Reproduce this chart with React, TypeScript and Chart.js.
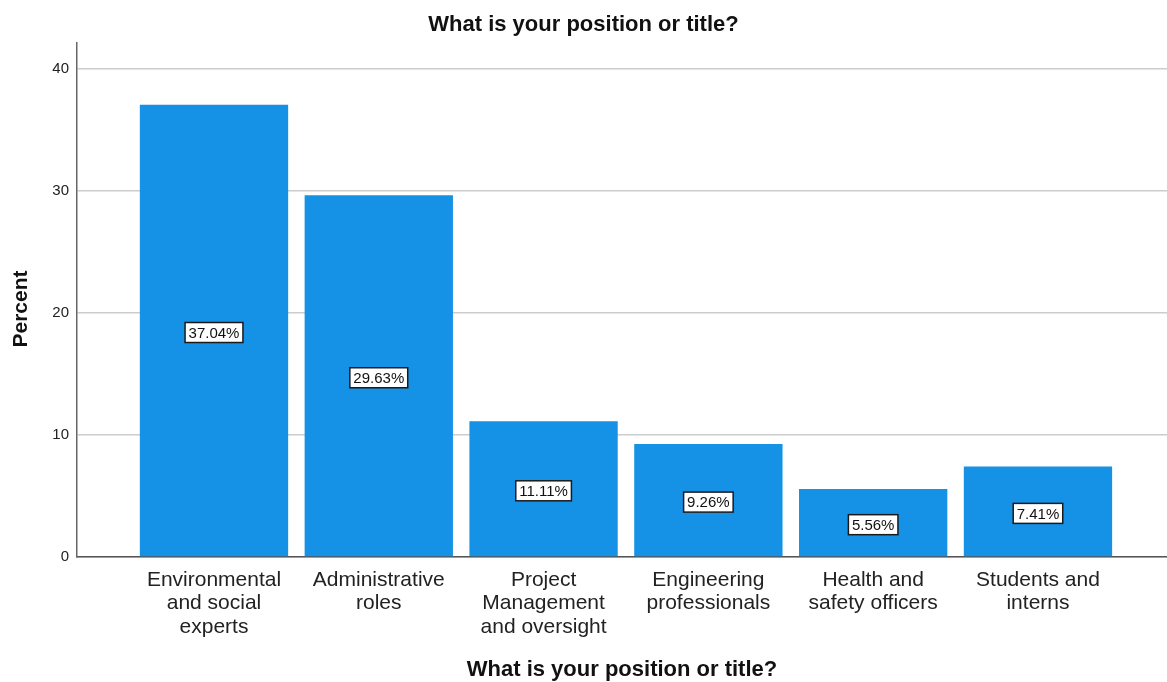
import React, { useEffect, useRef } from "react";
import { Chart, registerables } from "chart.js";

Chart.register(...registerables);

const chartTitle = "What is your position or title?";
const xAxisTitle = "What is your position or title?";
const yAxisTitle = "Percent";
const categories: string[][] = [
  ["Environmental", "and social", "experts"],
  ["Administrative", "roles"],
  ["Project", "Management", "and oversight"],
  ["Engineering", "professionals"],
  ["Health and", "safety officers"],
  ["Students and", "interns"],
];
const percents: number[] = [37.04, 29.63, 11.11, 9.26, 5.56, 7.41];
const yTicks: number[] = [0, 10, 20, 30, 40];

const FONT = "'Liberation Sans', Arial, Helvetica, sans-serif";
const BAR_COLOR = "#1591E6";

const labelBoxPlugin = {
  id: "labelBoxes",
  afterDatasetsDraw(chart: any) {
    const ctx = chart.ctx;
    const meta = chart.getDatasetMeta(0);
    ctx.save();
    ctx.font = `15px ${FONT}`;
    ctx.textAlign = "center";
    ctx.textBaseline = "middle";
    meta.data.forEach((bar: any, i: number) => {
      const text = percents[i].toFixed(2) + "%";
      const cx = bar.x;
      const cy = (bar.y + bar.base) / 2 + 2;
      const w = ctx.measureText(text).width + 7;
      const h = 20;
      ctx.fillStyle = "#ffffff";
      ctx.fillRect(cx - w / 2, cy - h / 2, w, h);
      ctx.lineWidth = 1.5;
      ctx.strokeStyle = "#1a1a1a";
      ctx.strokeRect(cx - w / 2, cy - h / 2, w, h);
      ctx.fillStyle = "#111111";
      ctx.fillText(text, cx, cy + 1);
    });
    ctx.restore();
  },
};

const yTitlePlugin = {
  id: "yTitle",
  afterDraw(chart: any) {
    const ctx = chart.ctx;
    ctx.save();
    ctx.translate(21, 309);
    ctx.rotate(-Math.PI / 2);
    ctx.font = `bold 21px ${FONT}`;
    ctx.fillStyle = "#111111";
    ctx.textAlign = "center";
    ctx.textBaseline = "middle";
    ctx.fillText(yAxisTitle, 0, 0);
    ctx.restore();
  },
};

export default function App() {
  const canvasRef = useRef<HTMLCanvasElement | null>(null);

  useEffect(() => {
    if (!canvasRef.current) return;
    const chart = new Chart(canvasRef.current, {
      type: "bar",
      data: {
        datasets: [
          {
            data: percents.map((v, i) => ({ x: i + 1, y: v })),
            backgroundColor: BAR_COLOR,
            borderWidth: 0,
            categoryPercentage: 1,
            barPercentage: 0.9,
          },
        ],
      },
      options: {
        animation: false,
        responsive: false,
        maintainAspectRatio: false,
        layout: { padding: 0 },
        plugins: {
          legend: { display: false },
          tooltip: { enabled: false },
          title: {
            display: true,
            text: chartTitle,
            color: "#111111",
            font: { family: FONT, size: 22, weight: "bold", lineHeight: 1.2 },
            padding: { top: 12, bottom: 4.6 },
          },
        },
        scales: {
          x: {
            type: "linear",
            offset: false,
            min: 0.1687,
            max: 6.783,
            afterBuildTicks: (scale: any) => {
              scale.ticks = categories.map((_, i) => ({ value: i + 1 }));
            },
            afterFit: (scale: any) => {
              scale.height = 125;
            },
            grid: { display: false, drawTicks: false, offset: false },
            border: { display: true, color: "#555555", width: 1.5 },
            ticks: {
              autoSkip: false,
              maxRotation: 0,
              minRotation: 0,
              padding: 12,
              color: "#222222",
              font: { family: FONT, size: 21, lineHeight: 1.1 },
              callback: (value: any) => categories[Math.round(value) - 1] ?? "",
            },
            title: {
              display: true,
              text: xAxisTitle,
              color: "#111111",
              font: { family: FONT, size: 22, weight: "bold", lineHeight: 1.1 },
              padding: { top: 0, bottom: 0 },
            },
          },
          y: {
            type: "linear",
            min: 0,
            max: 42.1,
            afterBuildTicks: (scale: any) => {
              scale.ticks = yTicks.map((v) => ({ value: v }));
            },
            afterFit: (scale: any) => {
              scale.width = 77;
            },
            grid: { color: "#cccccc", lineWidth: 1.5, drawTicks: false },
            border: { display: true, color: "#666666", width: 1.5 },
            ticks: {
              includeBounds: false,
              padding: 8,
              color: "#222222",
              font: { family: FONT, size: 15 },
            },
          },
        },
      },
      plugins: [labelBoxPlugin, yTitlePlugin],
    } as any);
    return () => chart.destroy();
  }, []);

  return (
    <div style={{ position: "fixed", left: 0, top: 0, width: 1167, height: 682, background: "#ffffff" }}>
      <canvas ref={canvasRef} width={1167} height={682} style={{ display: "block" }} />
    </div>
  );
}
